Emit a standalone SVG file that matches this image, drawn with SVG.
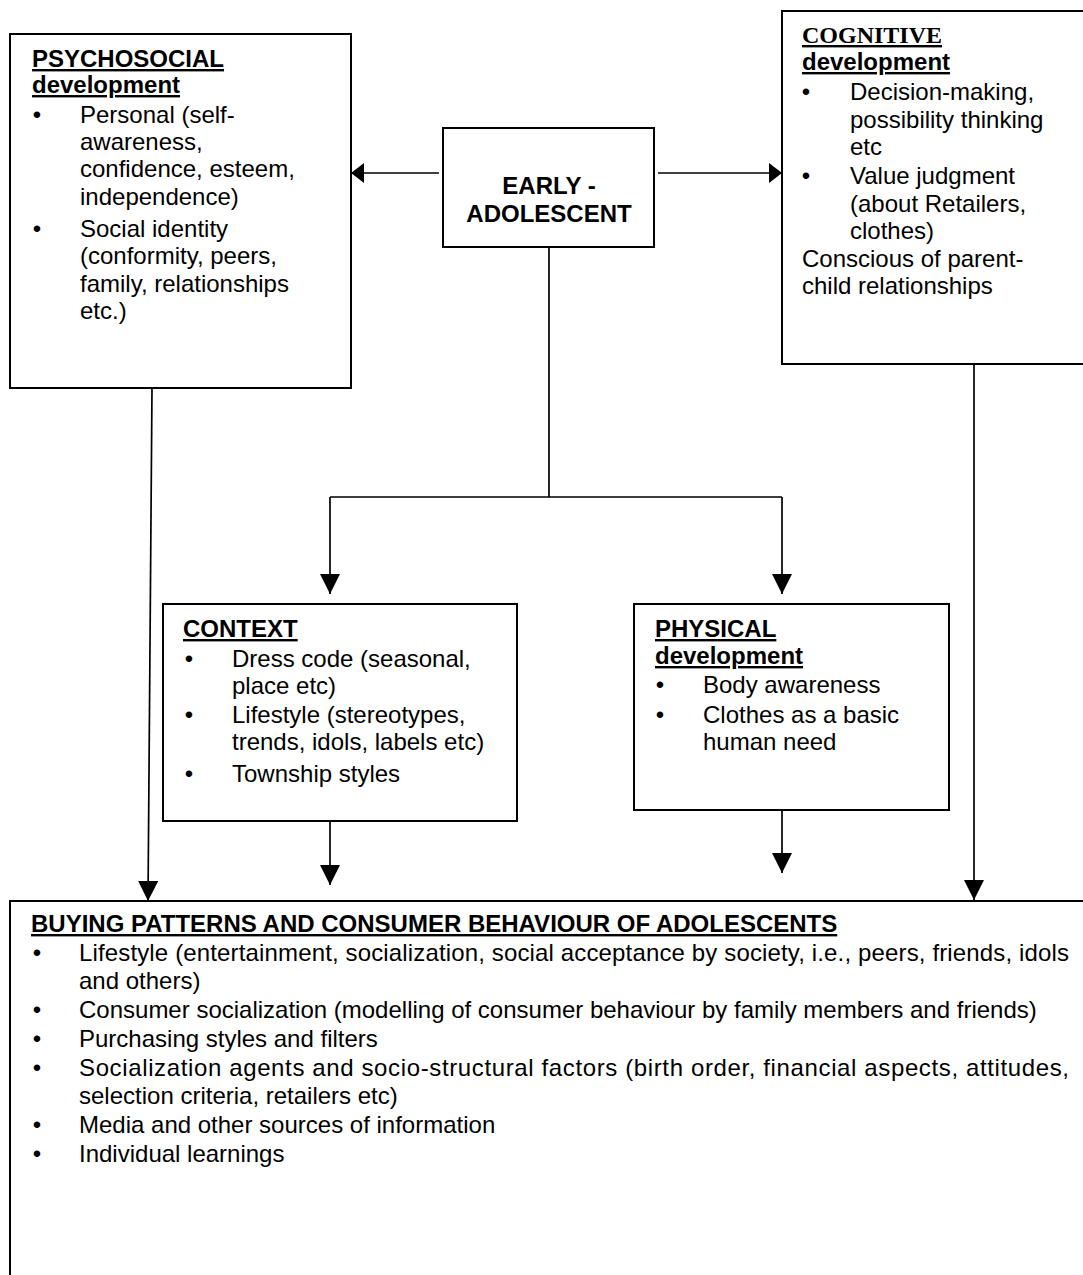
<svg xmlns="http://www.w3.org/2000/svg" width="1083" height="1275" viewBox="0 0 1083 1275">
<style>
.box{fill:#fff;stroke:#000;stroke-width:2}
.t{font-family:"Liberation Sans",Arial,sans-serif;font-size:24px;fill:#000}
.b{font-weight:bold}
.u{text-decoration:underline}
.serif{font-family:"Liberation Serif","Times New Roman",serif}
.bl{text-anchor:middle}
.c{text-anchor:middle}
.ln{fill:none;stroke:#000;stroke-width:1.7}
</style>
<defs>
<marker id="av" viewBox="0 0 20 20" refX="20" refY="10" markerWidth="20" markerHeight="20" markerUnits="userSpaceOnUse" orient="auto">
<path d="M0,0 L20,10 L0,20 z" fill="#000"/>
</marker>
<marker id="ah" viewBox="0 0 13 20" refX="13" refY="10" markerWidth="13" markerHeight="20" markerUnits="userSpaceOnUse" orient="auto">
<path d="M0,0 L13,10 L0,20 z" fill="#000"/>
</marker>
</defs>
<rect width="1083" height="1275" fill="#fff"/>

<g id="psychosocial">
<rect class="box" x="10" y="34" width="341" height="354"/>
<text class="t b u" x="32" y="67">PSYCHOSOCIAL</text>
<text class="t b u" x="32" y="93">development</text>
<text class="t bl" x="37" y="123">•</text>
<text class="t" x="80" y="123">Personal (self-</text>
<text class="t" x="80" y="150">awareness,</text>
<text class="t" x="80" y="177">confidence, esteem,</text>
<text class="t" x="80" y="205">independence)</text>
<text class="t bl" x="37" y="237">•</text>
<text class="t" x="80" y="237">Social identity</text>
<text class="t" x="80" y="264">(conformity, peers,</text>
<text class="t" x="80" y="292">family, relationships</text>
<text class="t" x="80" y="319">etc.)</text>
</g>

<g id="early">
<rect class="box" x="443" y="128" width="211" height="119"/>
<text class="t b c" x="549" y="194">EARLY -</text>
<text class="t b c" x="549" y="222">ADOLESCENT</text>
</g>

<g id="cognitive">
<rect class="box" x="782" y="11" width="320" height="353"/>
<text class="t b u serif" x="802" y="43">COGNITIVE</text>
<text class="t b u" x="802" y="70">development</text>
<text class="t bl" x="806" y="100">•</text>
<text class="t" x="850" y="100">Decision-making,</text>
<text class="t" x="850" y="128">possibility thinking</text>
<text class="t" x="850" y="155">etc</text>
<text class="t bl" x="806" y="184">•</text>
<text class="t" x="850" y="184">Value judgment</text>
<text class="t" x="850" y="212">(about Retailers,</text>
<text class="t" x="850" y="239">clothes)</text>
<text class="t" x="802" y="267">Conscious of parent-</text>
<text class="t" x="802" y="294">child relationships</text>
</g>

<g id="context">
<rect class="box" x="163" y="604" width="354" height="217"/>
<text class="t b u" x="183" y="637">CONTEXT</text>
<text class="t bl" x="189" y="667">•</text>
<text class="t" x="232" y="667">Dress code (seasonal,</text>
<text class="t" x="232" y="694">place etc)</text>
<text class="t bl" x="189" y="723">•</text>
<text class="t" x="232" y="723">Lifestyle (stereotypes,</text>
<text class="t" x="232" y="750">trends, idols, labels etc)</text>
<text class="t bl" x="189" y="782">•</text>
<text class="t" x="232" y="782">Township styles</text>
</g>

<g id="physical">
<rect class="box" x="634" y="604" width="315" height="206"/>
<text class="t b u" x="655" y="637">PHYSICAL</text>
<text class="t b u" x="655" y="664">development</text>
<text class="t bl" x="660" y="693">•</text>
<text class="t" x="703" y="693">Body awareness</text>
<text class="t bl" x="660" y="723">•</text>
<text class="t" x="703" y="723">Clothes as a basic</text>
<text class="t" x="703" y="750">human need</text>
</g>

<g id="buying">
<rect class="box" x="10" y="901" width="1100" height="420"/>
<text class="t b u" x="31" y="932">BUYING PATTERNS AND CONSUMER BEHAVIOUR OF ADOLESCENTS</text>
<text class="t bl" x="37" y="961">•</text>
<text class="t" x="79" y="961" textLength="990" lengthAdjust="spacing">Lifestyle (entertainment, socialization, social acceptance by society, i.e., peers, friends, idols</text>
<text class="t" x="79" y="989">and others)</text>
<text class="t bl" x="37" y="1018">•</text>
<text class="t" x="79" y="1018">Consumer socialization (modelling of consumer behaviour by family members and friends)</text>
<text class="t bl" x="37" y="1047">•</text>
<text class="t" x="79" y="1047">Purchasing styles and filters</text>
<text class="t bl" x="37" y="1076">•</text>
<text class="t" x="79" y="1076" textLength="990" lengthAdjust="spacing">Socialization agents and socio-structural factors (birth order, financial aspects, attitudes,</text>
<text class="t" x="79" y="1104">selection criteria, retailers etc)</text>
<text class="t bl" x="37" y="1133">•</text>
<text class="t" x="79" y="1133">Media and other sources of information</text>
<text class="t bl" x="37" y="1162">•</text>
<text class="t" x="79" y="1162">Individual learnings</text>
</g>

<g id="connectors">
<line class="ln" x1="439" y1="173" x2="351" y2="173" marker-end="url(#ah)"/>
<line class="ln" x1="658" y1="173" x2="782" y2="173" marker-end="url(#ah)"/>
<path class="ln" d="M549,247 V497 M330,497 H782"/>
<line class="ln" x1="330" y1="497" x2="330" y2="594" marker-end="url(#av)"/>
<line class="ln" x1="782" y1="497" x2="782" y2="594" marker-end="url(#av)"/>
<line class="ln" x1="152" y1="388" x2="148" y2="901" marker-end="url(#av)"/>
<line class="ln" x1="974" y1="364" x2="974" y2="900" marker-end="url(#av)"/>
<line class="ln" x1="330" y1="821" x2="330" y2="885" marker-end="url(#av)"/>
<line class="ln" x1="782" y1="810" x2="782" y2="873" marker-end="url(#av)"/>
</g>
</svg>
